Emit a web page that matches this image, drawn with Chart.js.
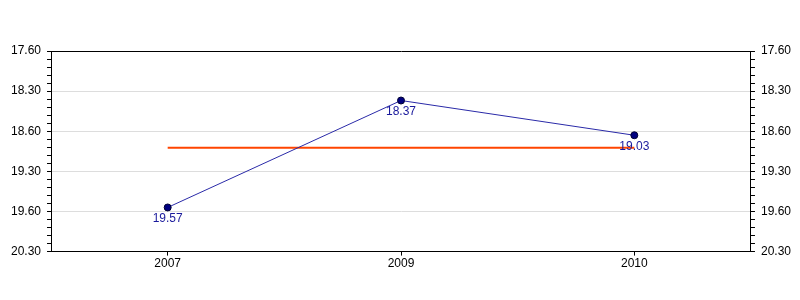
<!DOCTYPE html>
<html>
<head>
<meta charset="utf-8">
<script src="https://cdn.jsdelivr.net/npm/chart.js@4/dist/chart.umd.min.js"></script>
<style>
html,body{margin:0;padding:0;background:#fff;}
#wrap{width:800px;height:300px;position:relative;}
</style>
</head>
<body>
<div id="wrap"><canvas id="c" width="800" height="300"></canvas></div>
<script>
// Categories (years)
const categories = ['2007', '2009', '2010'];
// Times in decimal minutes (19:57, 18:37, 19:03)
const timeValues = [19.95, 18.617, 19.05];
// Point label texts as printed
const pointLabels = ['19.57', '18.37', '19.03'];
// Average line value
const averageValues = [19.206, 19.206, 19.206];
// Axis range and major tick labels (minutes)
const yMin = 18.0, yMax = 20.5;
const majorTickValues = [18.0, 18.5, 19.0, 19.5, 20.0, 20.5];
const majorTickLabels = ['17.60', '18.30', '18.60', '19.30', '19.60', '20.30'];

const FONT = {family: 'Arial, "Liberation Sans", sans-serif', size: 12};

function tenths(v){ return Math.round(v * 10); }
function majorIndex(v){
  const t = tenths(v);
  for (let i = 0; i < majorTickValues.length; i++) {
    if (tenths(majorTickValues[i]) === t) return i;
  }
  return -1;
}
function tickLabel(v){
  const i = majorIndex(v);
  return i >= 0 ? majorTickLabels[i] : '';
}
function gridColor(ctx){
  const v = ctx.tick ? ctx.tick.value : null;
  if (v === null) return 'rgba(0,0,0,0)';
  const t = tenths(v);
  if (t === tenths(yMin) || t === tenths(yMax)) return '#000000';
  if (majorIndex(v) >= 0) return '#dddddd';
  return 'rgba(0,0,0,0)';
}

const pointLabelPlugin = {
  id: 'pointLabelPlugin',
  afterDatasetsDraw(chart){
    const meta = chart.getDatasetMeta(0);
    const ctx = chart.ctx;
    ctx.save();
    ctx.font = '12px Arial, "Liberation Sans", sans-serif';
    ctx.fillStyle = '#1a1a9c';
    ctx.textAlign = 'center';
    ctx.textBaseline = 'top';
    meta.data.forEach((pt, i) => {
      ctx.fillText(pointLabels[i], pt.x, pt.y + 5);
    });
    ctx.restore();
  }
};

const yCommon = {
  type: 'linear',
  min: yMin,
  max: yMax,
  reverse: true,
  border: {display: true, color: '#000000', width: 1},
  ticks: {
    stepSize: 0.1,
    autoSkip: false,
    color: '#000000',
    font: FONT,
    padding: 6,
    callback: (v) => tickLabel(v)
  }
};

new Chart(document.getElementById('c'), {
  type: 'line',
  data: {
    labels: categories,
    datasets: [
      {
        label: 'Time',
        data: timeValues,
        borderColor: '#2a2aa8',
        borderWidth: 1,
        pointBackgroundColor: '#000080',
        pointBorderColor: '#000033',
        pointBorderWidth: 1,
        pointRadius: 3.5,
        tension: 0,
        order: 0
      },
      {
        label: 'Average',
        data: averageValues,
        borderColor: '#ff4500',
        borderWidth: 2,
        pointRadius: 0,
        tension: 0,
        order: 1
      }
    ]
  },
  options: {
    responsive: false,
    animation: false,
    devicePixelRatio: 1,
    layout: {padding: {left: 5, right: 3, top: 51, bottom: 28}},
    plugins: {legend: {display: false}, tooltip: {enabled: false}},
    scales: {
      x: {
        type: 'category',
        offset: true,
        border: {display: true, color: '#000000', width: 1},
        grid: {drawOnChartArea: false, tickLength: 4, tickColor: '#000000', offset: false},
        ticks: {color: '#000000', font: FONT, padding: 1}
      },
      y: Object.assign({}, yCommon, {
        position: 'left',
        grid: {
          drawOnChartArea: true,
          color: gridColor,
          tickColor: '#000000',
          tickLength: 4,
          lineWidth: 1
        }
      }),
      y1: Object.assign({}, yCommon, {
        position: 'right',
        grid: {
          drawOnChartArea: false,
          tickColor: '#000000',
          tickLength: 4,
          lineWidth: 1
        }
      })
    }
  },
  plugins: [pointLabelPlugin]
});
</script>
</body>
</html>
